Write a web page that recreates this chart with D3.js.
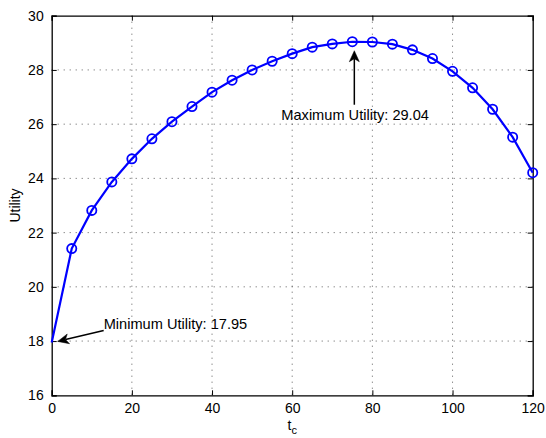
<!DOCTYPE html>
<html><head><meta charset="utf-8">
<script src="https://cdn.jsdelivr.net/npm/d3@7"></script>
<style>
html,body{margin:0;padding:0;background:#fff;}
text{font-family:"Liberation Sans",Arial,Helvetica,sans-serif;fill:#000;}
</style></head>
<body>
<svg id="chart" width="546" height="438"></svg>
<script>
const tc = [0,5,10,15,20,25,30,35,40,45,50,55,60,65,70,75,80,85,90,95,100,105,110,115,120];
const utility = [17.95,21.41,22.82,23.87,24.72,25.46,26.09,26.65,27.18,27.62,28.00,28.32,28.60,28.84,28.96,29.04,29.03,28.95,28.74,28.42,27.95,27.34,26.55,25.52,24.21];
const xTicks = [0,20,40,60,80,100,120];
const yTicks = [16,18,20,22,24,26,28,30];
const maxLabel = "Maximum Utility: 29.04";
const minLabel = "Minimum Utility: 17.95";

const L=51.7, R=532.7, T=15.7, B=395.3;
const svg = d3.select("#chart");
const x = d3.scaleLinear().domain([0,120]).range([L,R]);
const y = d3.scaleLinear().domain([16,30]).range([B,T]);
const fs = 14;
const afs = 14.6;

// grid
const grid = svg.append("g").attr("stroke","#333").attr("stroke-width",0.8).attr("stroke-dasharray","1,5");
grid.selectAll(".gx").data(xTicks.slice(1,-1)).join("line")
  .attr("x1",d=>x(d)).attr("x2",d=>x(d)).attr("y1",T).attr("y2",B);
grid.selectAll(".gy").data(yTicks.slice(1,-1)).join("line")
  .attr("y1",d=>y(d)).attr("y2",d=>y(d)).attr("x1",L).attr("x2",R);

// axes
const ax = svg.append("g").attr("transform",`translate(0,${B})`)
  .call(d3.axisBottom(x).tickValues(xTicks).tickSize(-5).tickPadding(8).tickFormat(d3.format("d")));
const axT = svg.append("g").attr("transform",`translate(0,${T})`)
  .call(d3.axisTop(x).tickValues(xTicks).tickSize(-5).tickFormat(""));
const ay = svg.append("g").attr("transform",`translate(${L},0)`)
  .call(d3.axisLeft(y).tickValues(yTicks).tickSize(-5).tickPadding(8).tickFormat(d3.format("d")));
const ayR = svg.append("g").attr("transform",`translate(${R},0)`)
  .call(d3.axisRight(y).tickValues(yTicks).tickSize(-5).tickFormat(""));
[ax,axT,ay,ayR].forEach(g=>{
  g.select(".domain").attr("stroke","#000").attr("stroke-width",1.3);
  g.selectAll(".tick line").attr("stroke","#000").attr("stroke-width",1);
  g.selectAll(".tick text").attr("font-size",fs).attr("font-family","Liberation Sans, Arial, sans-serif").attr("fill","#000");
});

// line
const line = d3.line().x((d,i)=>x(tc[i])).y(d=>y(d));
svg.append("path").datum(utility).attr("d",line)
  .attr("fill","none").attr("stroke","#0000ff").attr("stroke-width",2.2);
svg.selectAll(".m").data(utility.slice(1)).join("circle")
  .attr("cx",(d,i)=>x(tc[i+1])).attr("cy",d=>y(d)).attr("r",4.6)
  .attr("fill","none").attr("stroke","#0000ff").attr("stroke-width",1.8);

// annotations
function arrow(x1,y1,x2,y2){
  const a = Math.atan2(y2-y1,x2-x1);
  const len=11, w=5, back=8;
  const bx = x2 - len*Math.cos(a), by = y2 - len*Math.sin(a);
  const nx = -Math.sin(a), ny = Math.cos(a);
  const mx = x2 - back*Math.cos(a), my = y2 - back*Math.sin(a);
  svg.append("line").attr("x1",x1).attr("y1",y1).attr("x2",mx).attr("y2",my)
    .attr("stroke","#000").attr("stroke-width",1.5);
  svg.append("path").attr("d",`M${x2},${y2}L${bx+nx*w},${by+ny*w}L${mx},${my}L${bx-nx*w},${by-ny*w}Z`)
    .attr("fill","#000").attr("stroke","#000").attr("stroke-width",0.5);
}
const iMax = utility.indexOf(d3.max(utility));
const iMin = utility.indexOf(d3.min(utility));
const mx = x(tc[iMax]), my = y(utility[iMax]);
arrow(mx+2, my+63, mx+2, my+9);
svg.append("text").attr("x",mx-71).attr("y",my+78).attr("font-size",afs).text(maxLabel);
const nx0 = x(tc[iMin]), ny0 = y(utility[iMin]);
arrow(nx0+52, ny0-12, nx0+6, ny0-1);
svg.append("text").attr("x",nx0+52).attr("y",ny0-13).attr("font-size",afs).text(minLabel);

// labels
svg.append("text").attr("transform",`translate(${20},${(T+B)/2}) rotate(-90)`)
  .attr("text-anchor","middle").attr("font-size",fs).text("Utility");
const xl = svg.append("text").attr("x",(L+R)/2).attr("y",430).attr("text-anchor","middle").attr("font-size",fs);
xl.append("tspan").text("t");
xl.append("tspan").attr("dy",4).attr("font-size",11).text("c");
</script>
</body></html>
